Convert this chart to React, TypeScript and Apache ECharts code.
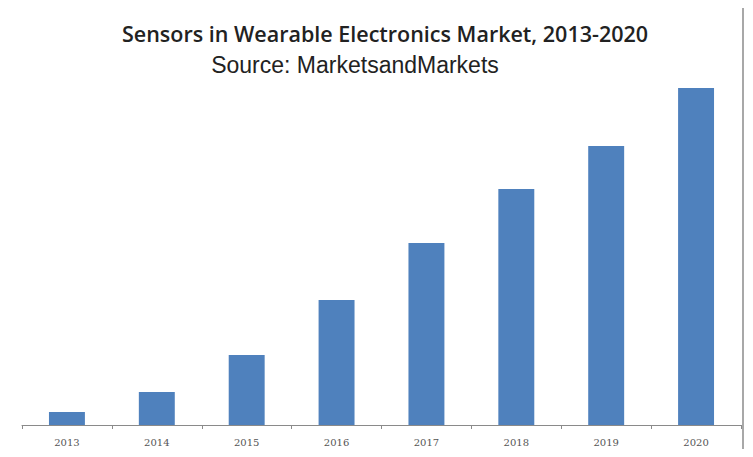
import React, { useEffect, useRef } from "react";
import * as echarts from "echarts";

const years = ["2013", "2014", "2015", "2016", "2017", "2018", "2019", "2020"];
const marketValues = [13, 33, 70, 125, 182, 236, 279, 337];

export default function App() {
  const ref = useRef<HTMLDivElement>(null);
  useEffect(() => {
    if (!ref.current) return;
    const chart = echarts.init(ref.current, null, { renderer: "svg" });
    chart.setOption({
      animation: false,
      backgroundColor: "#ffffff",
      title: [
        {
          text: "Sensors in Wearable Electronics Market, 2013-2020",
          left: 380,
          top: 17,
          textAlign: "center",
          textStyle: { fontFamily: "Open Sans", fontWeight: 600, fontSize: 21.5, color: "#222" },
        },
        {
          text: "Source: MarketsandMarkets",
          left: 350,
          top: 48,
          textAlign: "center",
          textStyle: { fontFamily: "Liberation Sans", fontWeight: "normal", fontSize: 23, color: "#222" },
        },
      ],
      grid: [
        { left: 22, right: 12, top: 88, bottom: 32 },
        {
          left: 5,
          top: 6,
          right: 10,
          bottom: -20,
          show: true,
          z: 0,
          backgroundColor: "transparent",
          borderColor: "#a8a8a8",
          borderWidth: 2,
        },
      ],
      xAxis: [
        {
          type: "category",
          gridIndex: 0,
          data: years,
          axisLine: { lineStyle: { color: "#8a8a8a", width: 1 } },
          axisTick: { show: true, length: 4, inside: false, lineStyle: { color: "#8a8a8a" } },
          axisLabel: { fontFamily: "DejaVu Serif", fontSize: 10, color: "#555", margin: 12 },
        },
        { type: "value", gridIndex: 1, show: false, splitLine: { show: false } },
      ],
      yAxis: [
        {
          type: "value",
          gridIndex: 0,
          min: 0,
          max: 337,
          show: false,
          splitLine: { show: false },
        },
        { type: "value", gridIndex: 1, show: false, splitLine: { show: false } },
      ],
      series: [
        {
          type: "bar",
          xAxisIndex: 0,
          yAxisIndex: 0,
          data: marketValues,
          barWidth: "40%",
          itemStyle: { color: "#4f81bd" },
        },
      ],
    });
    return () => chart.dispose();
  }, []);
  return <div ref={ref} style={{ width: 753, height: 457, margin: -8 }} />;
}
